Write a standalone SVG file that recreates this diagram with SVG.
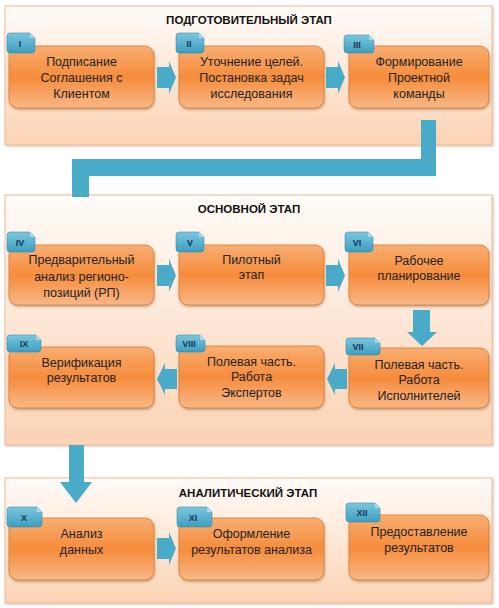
<svg xmlns="http://www.w3.org/2000/svg" width="499" height="608" viewBox="0 0 499 608">
<defs>
<linearGradient id="panelG" x1="0" y1="0" x2="0" y2="1">
<stop offset="0" stop-color="#fffbf8"/>
<stop offset="1" stop-color="#fbd3b4"/>
</linearGradient>
<linearGradient id="boxG" x1="0" y1="0" x2="0" y2="1">
<stop offset="0" stop-color="#f8ae72"/>
<stop offset="0.5" stop-color="#f68c3c"/>
<stop offset="1" stop-color="#f9b887"/>
</linearGradient>
<linearGradient id="tabG" x1="0" y1="0" x2="0" y2="1">
<stop offset="0" stop-color="#7cc6de"/>
<stop offset="1" stop-color="#3d9ec0"/>
</linearGradient>
<filter id="sh" x="-10%" y="-10%" width="120%" height="130%">
<feDropShadow dx="0.5" dy="1.5" stdDeviation="1" flood-color="#7a4a20" flood-opacity="0.45"/>
</filter>
<filter id="psh" x="-5%" y="-5%" width="110%" height="110%">
<feDropShadow dx="1" dy="1" stdDeviation="0.8" flood-color="#b08060" flood-opacity="0.5"/>
</filter>
</defs>
<style>
.panel{fill:url(#panelG);stroke:#e9bf9f;stroke-width:1;filter:url(#psh)}
.box{fill:url(#boxG);stroke:#d9792e;stroke-width:0.8;filter:url(#sh)}
.tab{fill:url(#tabG);stroke:#3a8fb0;stroke-width:0.6}
.fold{fill:#a9dcea}
.ttl{font-family:"Liberation Sans",Arial,sans-serif;font-weight:bold;font-size:11.5px;fill:#111;text-anchor:middle}
.t{font-family:"Liberation Sans",Arial,sans-serif;font-size:12.5px;fill:#222;text-anchor:middle}
.tl{font-family:"Liberation Sans",Arial,sans-serif;font-weight:bold;font-size:9px;fill:#1c3552;text-anchor:middle}
.arr{fill:#4aabc8}
</style>

<g id="panels">
<rect class="panel" x="5" y="6" width="487" height="139"/>
<rect class="panel" x="5" y="195" width="487" height="250"/>
<rect class="panel" x="5" y="478" width="487" height="125"/>
<text class="ttl" x="249" y="24">ПОДГОТОВИТЕЛЬНЫЙ ЭТАП</text>
<text class="ttl" x="249" y="213">ОСНОВНОЙ ЭТАП</text>
<text class="ttl" x="248" y="497">АНАЛИТИЧЕСКИЙ ЭТАП</text>
</g>

<g id="connectors">
<path class="arr" d="M421,120 H436 V176 H89 V197 H72 V159 H421 Z"/>
<path class="arr" d="M157,67 H169 V61 L176,77.5 L169,94 V88 H157 Z"/>
<path class="arr" d="M326,67 H338 V61 L345,77.5 L338,94 V88 H326 Z"/>
<path class="arr" d="M157,265 H169 V259 L176,275.5 L169,292 V286 H157 Z"/>
<path class="arr" d="M326,265 H338 V259 L345,275.5 L338,292 V286 H326 Z"/>
<path class="arr" d="M413,310 H430 V332 H437 L422,346 L407,332 H413 Z"/>
<path class="arr" d="M347,369 H335 V363 L327,379 L335,395 V389 H347 Z"/>
<path class="arr" d="M177,369 H165 V363 L157,379 L165,395 V389 H177 Z"/>
<path class="arr" d="M69,445 H84 V482 H92 L76,503 L60,482 H69 Z"/>
<path class="arr" d="M157,538 H169 V532 L176,548.5 L169,565 V559 H157 Z"/>
</g>

<g id="n1">
<rect class="box" x="9" y="46" width="145" height="62" rx="9"/>
<path class="tab" d="M7,36 Q7,33 10,33 H30 L35,38 V50 Q35,53 32,53 H10 Q7,53 7,50 Z"/>
<path class="fold" d="M30,33 L35,38 H30 Z"/>
<text class="tl" x="20" y="46.5">I</text>
<text class="t" x="81.5" y="66">Подписание</text>
<text class="t" x="81.5" y="82">Соглашения с</text>
<text class="t" x="81.5" y="98">Клиентом</text>
</g>
<g id="n2">
<rect class="box" x="179" y="46" width="145" height="62" rx="9"/>
<path class="tab" d="M176,36 Q176,33 179,33 H199 L204,38 V50 Q204,53 201,53 H179 Q176,53 176,50 Z"/>
<path class="fold" d="M199,33 L204,38 H199 Z"/>
<text class="tl" x="189" y="46.5">II</text>
<text class="t" x="251.5" y="66">Уточнение целей.</text>
<text class="t" x="251.5" y="82">Постановка задач</text>
<text class="t" x="251.5" y="98">исследования</text>
</g>
<g id="n3">
<rect class="box" x="349" y="46" width="140" height="62" rx="9"/>
<path class="tab" d="M344,38 Q344,35 347,35 H369 L374,40 V50 Q374,53 371,53 H347 Q344,53 344,50 Z"/>
<path class="fold" d="M369,35 L374,40 H369 Z"/>
<text class="tl" x="357" y="47.5">III</text>
<text class="t" x="419" y="66">Формирование</text>
<text class="t" x="419" y="82">Проектной</text>
<text class="t" x="419" y="98">команды</text>
</g>

<g id="n4">
<rect class="box" x="9" y="245" width="145" height="60" rx="9"/>
<path class="tab" d="M7,235 Q7,232 10,232 H30 L35,237 V249 Q35,252 32,252 H10 Q7,252 7,249 Z"/>
<path class="fold" d="M30,232 L35,237 H30 Z"/>
<text class="tl" x="20" y="245.5">IV</text>
<text class="t" x="81.5" y="264">Предварительный</text>
<text class="t" x="81.5" y="281">анализ регионо-</text>
<text class="t" x="81.5" y="297">позиций (РП)</text>
</g>
<g id="n5">
<rect class="box" x="179" y="245" width="145" height="60" rx="9"/>
<path class="tab" d="M176,235 Q176,232 179,232 H199 L204,237 V249 Q204,252 201,252 H179 Q176,252 176,249 Z"/>
<path class="fold" d="M199,232 L204,237 H199 Z"/>
<text class="tl" x="190" y="245.5">V</text>
<text class="t" x="251.5" y="264">Пилотный</text>
<text class="t" x="251.5" y="279">этап</text>
</g>
<g id="n6">
<rect class="box" x="349" y="245" width="140" height="60" rx="9"/>
<path class="tab" d="M345,235 Q345,232 348,232 H368 L373,237 V249 Q373,252 370,252 H348 Q345,252 345,249 Z"/>
<path class="fold" d="M368,232 L373,237 H368 Z"/>
<text class="tl" x="357" y="245.5">VI</text>
<text class="t" x="419" y="265">Рабочее</text>
<text class="t" x="419" y="280">планирование</text>
</g>

<g id="n7">
<rect class="box" x="349" y="348" width="140" height="60" rx="9"/>
<path class="tab" d="M346,341 Q346,338 349,338 H375 L380,343 V352 Q380,355 377,355 H349 Q346,355 346,352 Z"/>
<path class="fold" d="M375,338 L380,343 H375 Z"/>
<text class="tl" x="358" y="350">VII</text>
<text class="t" x="419" y="369">Полевая часть.</text>
<text class="t" x="419" y="384">Работа</text>
<text class="t" x="419" y="400">Исполнителей</text>
</g>
<g id="n8">
<rect class="box" x="179" y="346" width="145" height="62" rx="9"/>
<path class="tab" d="M176,338 Q176,335 179,335 H200 L205,340 V349 Q205,352 202,352 H179 Q176,352 176,349 Z"/>
<path class="fold" d="M200,335 L205,340 H200 Z"/>
<text class="tl" x="189" y="347">VIII</text>
<text class="t" x="251.5" y="366">Полевая часть.</text>
<text class="t" x="251.5" y="381">Работа</text>
<text class="t" x="251.5" y="397">Экспертов</text>
</g>
<g id="n9">
<rect class="box" x="9" y="347" width="145" height="61" rx="9"/>
<path class="tab" d="M7,338 Q7,335 10,335 H36 L41,340 V349 Q41,352 38,352 H10 Q7,352 7,349 Z"/>
<path class="fold" d="M36,335 L41,340 H36 Z"/>
<text class="tl" x="24" y="347">IX</text>
<text class="t" x="81.5" y="367">Верификация</text>
<text class="t" x="81.5" y="382">результатов</text>
</g>

<g id="n10">
<rect class="box" x="9" y="518" width="145" height="62" rx="9"/>
<path class="tab" d="M7,510 Q7,507 10,507 H37 L42,512 V524 Q42,527 39,527 H10 Q7,527 7,524 Z"/>
<path class="fold" d="M37,507 L42,512 H37 Z"/>
<text class="tl" x="24" y="520.5">X</text>
<text class="t" x="81.5" y="538">Анализ</text>
<text class="t" x="81.5" y="554">данных</text>
</g>
<g id="n11">
<rect class="box" x="179" y="518" width="145" height="62" rx="9"/>
<path class="tab" d="M177,510 Q177,507 180,507 H207 L212,512 V524 Q212,527 209,527 H180 Q177,527 177,524 Z"/>
<path class="fold" d="M207,507 L212,512 H207 Z"/>
<text class="tl" x="193" y="520.5">XI</text>
<text class="t" x="251.5" y="538">Оформление</text>
<text class="t" x="251.5" y="554">результатов анализа</text>
</g>
<g id="n12">
<rect class="box" x="349" y="515" width="140" height="65" rx="9"/>
<path class="tab" d="M346,506 Q346,503 349,503 H375 L380,508 V519 Q380,522 377,522 H349 Q346,522 346,519 Z"/>
<path class="fold" d="M375,503 L380,508 H375 Z"/>
<text class="tl" x="362" y="515.5">XII</text>
<text class="t" x="419" y="536">Предоставление</text>
<text class="t" x="419" y="552">результатов</text>
</g>
</svg>
